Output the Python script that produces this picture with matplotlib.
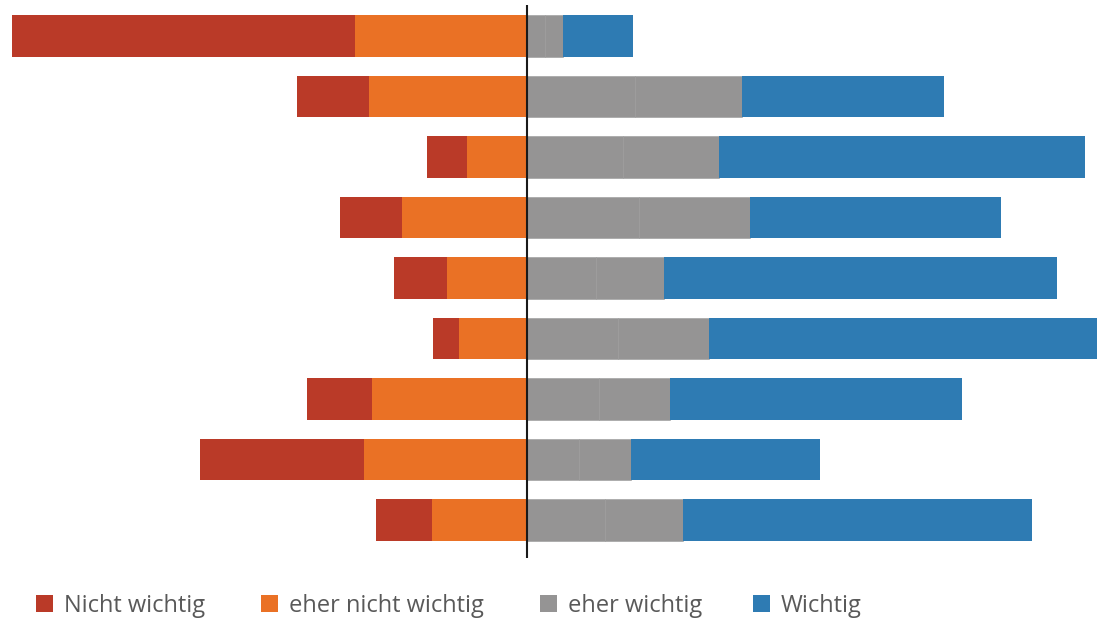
import numpy as np
import matplotlib
matplotlib.use('Agg')
import matplotlib.pyplot as plt
from matplotlib.patches import Rectangle

# share of answers per item (percent)
nicht_wichtig = [52.0, 10.8, 6.1, 9.5, 8.0, 3.9, 9.8, 24.8, 8.5]
eher_nicht = [26.0, 24.0, 9.1, 18.9, 12.1, 10.3, 23.5, 24.7, 14.4]
eher_wichtig = [5.5, 32.6, 29.1, 33.8, 20.8, 27.6, 21.7, 15.8, 23.6]
wichtig = [10.5, 30.6, 55.5, 38.0, 59.5, 58.8, 44.2, 28.6, 52.9]
labels = ['Nicht wichtig', 'eher nicht wichtig', 'eher wichtig', 'Wichtig']
colors = ['#BA3A28', '#EA7125', '#959494', '#2E7BB3']

plt.rcParams['font.family'] = ['Open Sans', 'DejaVu Sans']

W, H = 1110, 620
fig = plt.figure(figsize=(W / 100, H / 100), dpi=100)
ax = fig.add_axes([5 / W, 1 - 558 / H, 1100 / W, 553 / H])

y = np.arange(len(wichtig))
nw = np.array(nicht_wichtig)
en = np.array(eher_nicht)
ew = np.array(eher_wichtig)
w = np.array(wichtig)
h = 0.69

ax.barh(y, -en, height=h, color=colors[1], zorder=2)
ax.barh(y, -nw, left=-en, height=h, color=colors[0], zorder=2)
# eher wichtig drawn as two halves, like the original
ax.barh(y, ew / 2, height=h, color=colors[2], zorder=2, edgecolor='#9a9a9a', linewidth=0.4)
ax.barh(y, ew / 2, left=ew / 2, height=h, color=colors[2], zorder=2, edgecolor='#9a9a9a', linewidth=0.4)
ax.barh(y, w, left=ew, height=h, color=colors[3], zorder=2)

ax.axvline(0, color='#1a1a1a', linewidth=1.5, zorder=3)

ax.set_xlim(-522 / 6.6, 578 / 6.6)
ax.set_ylim(522 / 60.5, -31 / 60.5)
ax.axis('off')

# legend row, laid out like the original
leg_x = [36, 261, 540, 753]
for x0, lab, c in zip(leg_x, labels, colors):
    fig.patches.append(Rectangle((x0 / W, 1 - 612 / H), 17 / W, 17 / H,
                                 transform=fig.transFigure, facecolor=c, edgecolor='none'))
    fig.text((x0 + 28) / W, 1 - 612 / H, lab, fontsize=17, color='#595959', va='baseline')

fig.savefig('out.png', dpi=100)
